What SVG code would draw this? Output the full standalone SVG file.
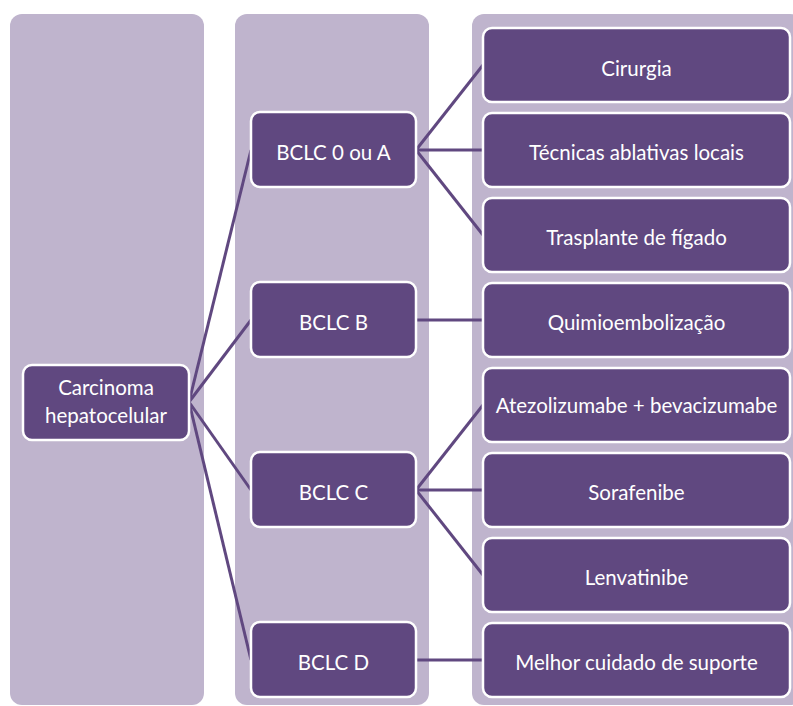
<svg xmlns="http://www.w3.org/2000/svg" width="793" height="706" viewBox="0 0 793 706">
<style>
.col{fill:#bfb4cd}
.node{fill:#604880;stroke:#ffffff;stroke-width:2.5}
.t{font-family:Lato,"Liberation Sans",sans-serif;font-size:20.5px;fill:#ffffff;text-anchor:middle}
.c{stroke:#604880;stroke-width:3;fill:none}
</style>
<rect width="793" height="706" fill="#ffffff"/>
<g id="columns">
<rect class="col" x="10" y="14" width="194" height="691" rx="12"/>
<rect class="col" x="235" y="14" width="194" height="691" rx="12"/>
<rect class="col" x="472" y="14" width="330" height="691" rx="12"/>
</g>
<g id="connectors">
<line class="c" x1="189" y1="402" x2="251" y2="150"/>
<line class="c" x1="189" y1="402" x2="251" y2="320"/>
<line class="c" x1="189" y1="402" x2="251" y2="490"/>
<line class="c" x1="189" y1="402" x2="251" y2="660"/>
<line class="c" x1="416" y1="150" x2="483" y2="65"/>
<line class="c" x1="416" y1="150" x2="483" y2="150"/>
<line class="c" x1="416" y1="150" x2="483" y2="235"/>
<line class="c" x1="416" y1="320" x2="483" y2="320"/>
<line class="c" x1="416" y1="490" x2="483" y2="405"/>
<line class="c" x1="416" y1="490" x2="483" y2="490"/>
<line class="c" x1="416" y1="490" x2="483" y2="575"/>
<line class="c" x1="416" y1="660" x2="483" y2="660"/>
</g>
<g id="n-carcinoma"><rect class="node" x="23" y="365" width="166" height="75" rx="9"/><text class="t" x="106" y="395">Carcinoma</text><text class="t" x="106" y="423">hepatocelular</text></g>
<g id="n-bclc0a"><rect class="node" x="251" y="112" width="165" height="75" rx="9"/><text class="t" x="333.5" y="160">BCLC 0 ou A</text></g>
<g id="n-bclcb"><rect class="node" x="251" y="282" width="165" height="75" rx="9"/><text class="t" x="333.5" y="330">BCLC B</text></g>
<g id="n-bclcc"><rect class="node" x="251" y="452" width="165" height="75" rx="9"/><text class="t" x="333.5" y="500">BCLC C</text></g>
<g id="n-bclcd"><rect class="node" x="251" y="622" width="165" height="75" rx="9"/><text class="t" x="333.5" y="670">BCLC D</text></g>
<g id="n-cirurgia"><rect class="node" x="483" y="28" width="307" height="74" rx="9"/><text class="t" x="636.5" y="76">Cirurgia</text></g>
<g id="n-tecnicas"><rect class="node" x="483" y="113" width="307" height="74" rx="9"/><text class="t" x="636.5" y="160">Técnicas ablativas locais</text></g>
<g id="n-trasplante"><rect class="node" x="483" y="198" width="307" height="74" rx="9"/><text class="t" x="636.5" y="245">Trasplante de fígado</text></g>
<g id="n-quimio"><rect class="node" x="483" y="283" width="307" height="74" rx="9"/><text class="t" x="636.5" y="330">Quimioembolização</text></g>
<g id="n-atezo"><rect class="node" x="483" y="368" width="307" height="74" rx="9"/><text class="t" x="636.5" y="413">Atezolizumabe + bevacizumabe</text></g>
<g id="n-sorafenibe"><rect class="node" x="483" y="453" width="307" height="74" rx="9"/><text class="t" x="636.5" y="500">Sorafenibe</text></g>
<g id="n-lenvatinibe"><rect class="node" x="483" y="538" width="307" height="74" rx="9"/><text class="t" x="636.5" y="585">Lenvatinibe</text></g>
<g id="n-melhor"><rect class="node" x="483" y="623" width="307" height="74" rx="9"/><text class="t" x="636.5" y="670">Melhor cuidado de suporte</text></g>
</svg>
